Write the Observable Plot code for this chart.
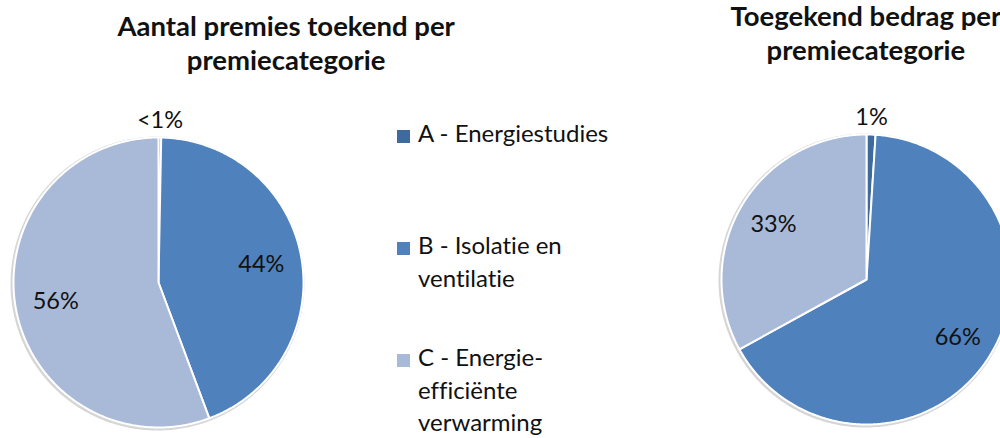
<!DOCTYPE html>
<html><head><meta charset="utf-8">
<script src="https://cdn.jsdelivr.net/npm/d3@7"></script>
<script src="https://cdn.jsdelivr.net/npm/@observablehq/plot@0.6"></script>
<style>
html,body{margin:0;padding:0;width:1000px;height:438px;overflow:hidden;background:#fff;font-family:Lato,"Open Sans",sans-serif;color:#111;font-variant-ligatures:none}
#wrap{position:relative;width:1000px;height:438px}
.title{position:absolute;font-weight:700;font-size:27.5px;line-height:34px;text-align:center;white-space:nowrap;color:#111}
.pie{position:absolute;font-variant-ligatures:none}
#legend{position:absolute;left:397px;top:0;font-size:24px;line-height:32.5px;color:#111}
.li{position:absolute;left:0;white-space:nowrap}
.sw{position:absolute;left:0;width:13px;height:13px}
.lt{position:absolute;left:21px}
</style></head>
<body><div id="wrap"></div>
<script>
// ---- data ----
const categories = ["A - Energiestudies", "B - Isolatie en ventilatie", "C - Energie-efficiënte verwarming"];
const legendLines = [["A - Energiestudies"], ["B - Isolatie en", "ventilatie"], ["C - Energie-", "efficiënte", "verwarming"]];
const countShares = [0.3, 44.0, 55.7];
const countLabels = ["<1%", "44%", "56%"];
const amountShares = [1, 66, 33];
const amountLabels = ["1%", "66%", "33%"];
const titles = [["Aantal premies toekend per", "premiecategorie"], ["Toegekend bedrag per", "premiecategorie"]];
const colors = ["#3f6a9e", "#4f81bd", "#a9bad9"];

// ---- layout ----
const wrap = document.getElementById("wrap");
const R = 145, S = 380;

function pie(values, labels, cx, cy, inR) {
  const arcs = d3.pie().sort(null).value(d => d)(values);
  const pts = [];
  const lab = [];
  arcs.forEach((a, i) => {
    const cat = categories[i];
    pts.push({x: 0, y: 0, cat});
    const n = Math.max(2, Math.ceil((a.endAngle - a.startAngle) / 0.01));
    for (let k = 0; k <= n; k++) {
      const t = a.startAngle + (a.endAngle - a.startAngle) * k / n;
      pts.push({x: Math.sin(t), y: Math.cos(t), cat});
    }
    pts.push({x: 0, y: 0, cat});
    const m = (a.startAngle + a.endAngle) / 2;
    const frac = a.value / d3.sum(values);
    const r = frac < 0.03 ? 1.12 : inR;
    lab.push({x: r * Math.sin(m), y: r * Math.cos(m), text: labels[i]});
  });
  const ring = d3.range(0, 2 * Math.PI + 0.01, 0.01).map(t => ({x: Math.sin(t), y: Math.cos(t)}));
  const h = S / 2 / R;
  const p = Plot.plot({
    width: S, height: S, margin: 0,
    x: {domain: [-h, h], axis: null},
    y: {domain: [-h, h], axis: null},
    color: {domain: categories, range: colors},
    style: {background: "transparent", overflow: "visible"},
    marks: [
      Plot.line(ring, {x: "x", y: "y", stroke: "#d6d6d6", strokeWidth: 4, dx: -1, dy: 1}),
      Plot.line(pts, {x: "x", y: "y", z: "cat", fill: "cat", stroke: "white", strokeWidth: 2, strokeLinejoin: "round"}),
      Plot.text(lab, {x: "x", y: "y", text: "text", fontSize: 23.5, fill: "#111", fontFamily: "Lato"})
    ]
  });
  p.classList.add("pie");
  p.style.left = (cx - S / 2) + "px";
  p.style.top = (cy - S / 2) + "px";
  wrap.appendChild(p);
}

pie(countShares, countLabels, 158, 282, 0.72);
pie(amountShares, amountLabels, 866, 279, 0.745);

function title(lines, cx, top) {
  const d = document.createElement("div");
  d.className = "title";
  d.innerHTML = lines.join("<br>");
  wrap.appendChild(d);
  d.style.left = (cx - d.offsetWidth / 2) + "px";
  d.style.top = top + "px";
}
title(titles[0], 286, 9);
title(titles[1], 866, -1);

const lg = document.createElement("div");
lg.id = "legend";
const tops = [117, 229, 341];
legendLines.forEach((lines, i) => {
  const item = document.createElement("div");
  item.className = "li";
  item.style.top = tops[i] + "px";
  item.innerHTML = `<div class="sw" style="background:${colors[i]};top:13px"></div><div class="lt">${lines.join("<br>")}</div>`;
  lg.appendChild(item);
});
wrap.appendChild(lg);
</script></body></html>
